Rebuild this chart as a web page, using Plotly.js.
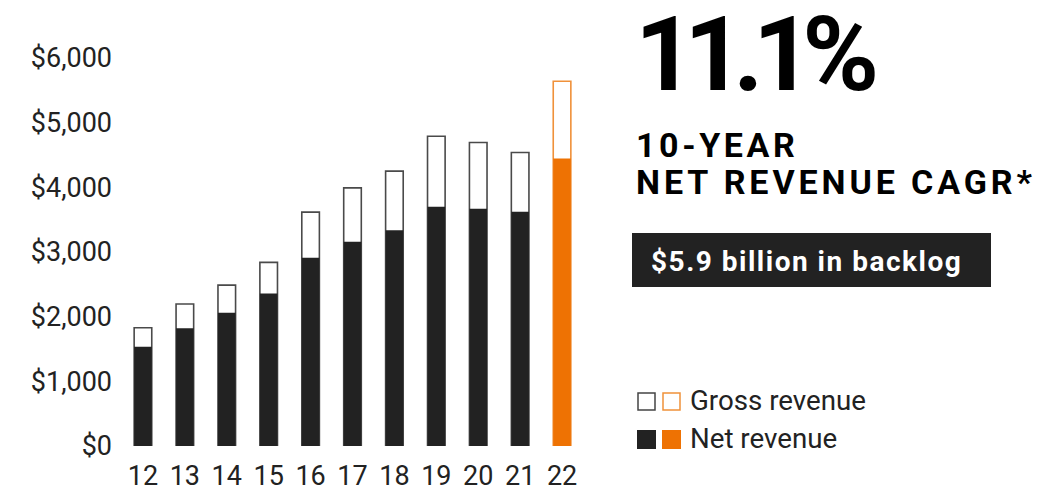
<!DOCTYPE html>
<html>
<head>
<meta charset="utf-8">
<script src="https://cdn.plot.ly/plotly-3.0.1.min.js"></script>
<style>
html,body{margin:0;padding:0;background:#fff;}
#chart{width:1037px;height:493px;}
</style>
</head>
<body>
<div id="chart"></div>
<script>
// Data (USD millions), fiscal years
const years = ['12','13','14','15','16','17','18','19','20','21','22'];
const grossRevenue = [1828, 2195, 2488, 2839, 3617, 3992, 4250, 4791, 4694, 4539, 5641];
const netRevenue   = [1535, 1819, 2060, 2360, 2910, 3158, 3338, 3699, 3668, 3621, 4447];
const yTicks = [0, 1000, 2000, 3000, 4000, 5000, 6000];
const yTickText = ['$0', '$1,000', '$2,000', '$3,000', '$4,000', '$5,000', '$6,000'];
const headline = '11.1%';
const subtitle1 = '10-YEAR';
const subtitle2 = 'NET REVENUE CAGR*';
const backlogNote = '$5.9 billion in backlog';
const legendLabels = ['Gross revenue', 'Net revenue'];

const DARK = '#222222';
const ORANGE = '#EE7203';
const lastIdx = years.length - 1;
const netColors = years.map((_, i) => i === lastIdx ? ORANGE : DARK);
const grossLine = years.map((_, i) => i === lastIdx ? '#F0913A' : '#4a4a4a');

const traces = [
  {
    type: 'bar', x: years, y: grossRevenue, name: legendLabels[0],
    width: 0.42,
    marker: {color: '#ffffff', line: {color: grossLine, width: 1.6}},
    hoverinfo: 'x+y'
  },
  {
    type: 'bar', x: years, y: netRevenue, name: legendLabels[1],
    width: 0.42,
    marker: {color: netColors, line: {width: 0}},
    hoverinfo: 'x+y'
  }
];

const FONT = 'Roboto, "Open Sans", sans-serif';

// helpers to place decorations in pixel terms relative to the plot area
const L = 122, T = 58, W = 461, H = 388;
const px = x => (x - L) / W;
const py = y => 1 - (y - T) / H;
const spaced = (s, ls) => '<span style="letter-spacing:' + ls + 'px"><b>' + s + '</b></span>';

const layout = {
  width: 1037, height: 493,
  margin: {l: L, r: 1037 - L - W, t: T, b: 493 - T - H, pad: 0},
  paper_bgcolor: '#ffffff', plot_bgcolor: '#ffffff',
  barmode: 'overlay',
  showlegend: false,
  font: {family: FONT, color: DARK},
  xaxis: {
    type: 'category', showgrid: false, zeroline: false, showline: false,
    ticks: '', tickfont: {family: FONT, size: 27, color: DARK},
    ticklabelstandoff: 11,
    range: [-0.5, 10.5], fixedrange: true
  },
  yaxis: {
    range: [0, 6000], showgrid: false, zeroline: false, showline: false,
    ticks: '', tickvals: yTicks, ticktext: yTickText,
    tickfont: {family: FONT, size: 27, color: DARK},
    ticklabelstandoff: 9, fixedrange: true
  },
  shapes: [
    // backlog box
    {type: 'rect', xref: 'paper', yref: 'paper', x0: px(632), x1: px(991), y0: py(233), y1: py(287),
     fillcolor: DARK, line: {width: 0}, layer: 'below'},
    // legend swatches: gross
    {type: 'rect', xref: 'paper', yref: 'paper', x0: px(638), x1: px(655), y0: py(393), y1: py(410),
     fillcolor: '#fff', line: {color: '#444', width: 1.5}},
    {type: 'rect', xref: 'paper', yref: 'paper', x0: px(663), x1: px(680), y0: py(393), y1: py(410),
     fillcolor: '#fff', line: {color: '#F0913A', width: 1.5}},
    // legend swatches: net
    {type: 'rect', xref: 'paper', yref: 'paper', x0: px(637), x1: px(656), y0: py(430), y1: py(449),
     fillcolor: DARK, line: {width: 0}},
    {type: 'rect', xref: 'paper', yref: 'paper', x0: px(662), x1: px(681), y0: py(430), y1: py(449),
     fillcolor: ORANGE, line: {width: 0}}
  ],
  annotations: [
    {text: spaced(headline, -10.5), xref: 'paper', yref: 'paper', x: px(633), y: py(54),
     xanchor: 'left', yanchor: 'middle', showarrow: false,
     font: {family: FONT, size: 104, color: '#000', weight: 900}},
    {text: spaced(subtitle1, 3.6), xref: 'paper', yref: 'paper', x: px(634), y: py(145),
     xanchor: 'left', yanchor: 'middle', showarrow: false,
     font: {family: FONT, size: 34, color: '#000'}},
    {text: spaced(subtitle2, 3.9), xref: 'paper', yref: 'paper', x: px(634), y: py(182),
     xanchor: 'left', yanchor: 'middle', showarrow: false,
     font: {family: FONT, size: 34, color: '#000'}},
    {text: spaced(backlogNote, 1.5), xref: 'paper', yref: 'paper', x: px(649), y: py(261),
     xanchor: 'left', yanchor: 'middle', showarrow: false,
     font: {family: FONT, size: 28, color: '#fff'}},
    {text: legendLabels[0], xref: 'paper', yref: 'paper', x: px(688), y: py(400),
     xanchor: 'left', yanchor: 'middle', showarrow: false,
     font: {family: FONT, size: 27.7, color: DARK}},
    {text: legendLabels[1], xref: 'paper', yref: 'paper', x: px(688), y: py(438),
     xanchor: 'left', yanchor: 'middle', showarrow: false,
     font: {family: FONT, size: 27.7, color: DARK}}
  ]
};

Plotly.newPlot('chart', traces, layout, {displayModeBar: false, staticPlot: true});
</script>
</body>
</html>
